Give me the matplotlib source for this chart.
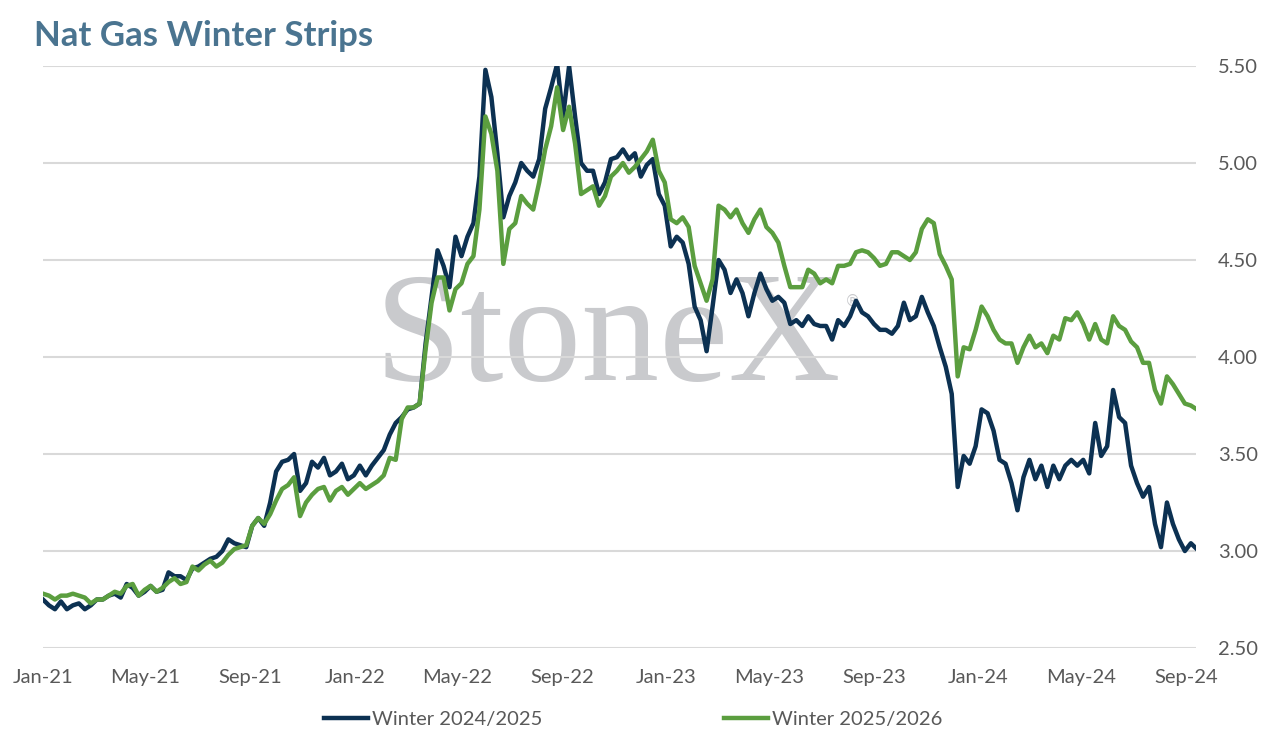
import pandas as pd
import matplotlib
matplotlib.use("Agg")
import matplotlib.pyplot as plt
import matplotlib.dates as mdates

# Weekly readings of the two winter strips ($/MMBtu), starting Jan 1 2021
winter_2425 = [
    2.75, 2.72, 2.70, 2.74, 2.70, 2.72, 2.73, 2.70, 2.72, 2.75,
    2.75, 2.77, 2.78, 2.76, 2.83, 2.81, 2.77, 2.79, 2.82, 2.79,
    2.80, 2.89, 2.87, 2.87, 2.85, 2.91, 2.92, 2.94, 2.96, 2.97,
    3.00, 3.06, 3.04, 3.03, 3.02, 3.13, 3.17, 3.13, 3.25, 3.41,
    3.46, 3.47, 3.50, 3.31, 3.35, 3.46, 3.43, 3.48, 3.39, 3.41,
    3.45, 3.37, 3.39, 3.44, 3.39, 3.44, 3.48, 3.52, 3.60, 3.66,
    3.69, 3.73, 3.74, 3.76, 4.07, 4.31, 4.55, 4.47, 4.36, 4.62,
    4.52, 4.62, 4.69, 4.93, 5.48, 5.34, 5.05, 4.72, 4.83, 4.90,
    5.00, 4.96, 4.93, 5.02, 5.28, 5.39, 5.51, 5.24, 5.50, 5.24,
    5.00, 4.96, 4.96, 4.84, 4.90, 5.02, 5.03, 5.07, 5.02, 5.05,
    4.93, 4.99, 5.02, 4.84, 4.78, 4.57, 4.62, 4.59, 4.48, 4.26,
    4.19, 4.03, 4.26, 4.50, 4.45, 4.33, 4.40, 4.33, 4.21, 4.33,
    4.43, 4.35, 4.29, 4.31, 4.28, 4.17, 4.19, 4.16, 4.21, 4.17,
    4.16, 4.16, 4.09, 4.19, 4.16, 4.21, 4.29, 4.23, 4.21, 4.17,
    4.14, 4.14, 4.12, 4.16, 4.28, 4.19, 4.21, 4.31, 4.23, 4.16,
    4.05, 3.95, 3.81, 3.33, 3.49, 3.45, 3.54, 3.73, 3.71, 3.62,
    3.47, 3.45, 3.35, 3.21, 3.38, 3.47, 3.37, 3.44, 3.33, 3.44,
    3.37, 3.44, 3.47, 3.44, 3.47, 3.40, 3.66, 3.49, 3.54, 3.83,
    3.69, 3.66, 3.44, 3.35, 3.28, 3.33, 3.14, 3.02, 3.25, 3.14,
    3.06, 3.00, 3.04, 3.01,
]

winter_2526 = [
    2.78, 2.77, 2.75, 2.77, 2.77, 2.78, 2.77, 2.76, 2.73, 2.75,
    2.75, 2.77, 2.79, 2.78, 2.82, 2.83, 2.77, 2.80, 2.82, 2.79,
    2.81, 2.84, 2.86, 2.83, 2.84, 2.92, 2.90, 2.93, 2.95, 2.92,
    2.94, 2.98, 3.01, 3.02, 3.03, 3.13, 3.17, 3.14, 3.19, 3.26,
    3.32, 3.34, 3.38, 3.18, 3.25, 3.29, 3.32, 3.33, 3.26, 3.31,
    3.33, 3.29, 3.32, 3.35, 3.32, 3.34, 3.36, 3.39, 3.48, 3.47,
    3.68, 3.74, 3.74, 3.76, 4.04, 4.28, 4.41, 4.41, 4.24, 4.35,
    4.38, 4.48, 4.52, 4.76, 5.24, 5.15, 4.96, 4.48, 4.66, 4.69,
    4.83, 4.79, 4.76, 4.90, 5.07, 5.19, 5.39, 5.17, 5.29, 5.10,
    4.84, 4.86, 4.88, 4.78, 4.83, 4.93, 4.96, 5.00, 4.95, 4.98,
    5.02, 5.06, 5.12, 4.96, 4.90, 4.71, 4.69, 4.72, 4.67, 4.47,
    4.38, 4.29, 4.40, 4.78, 4.76, 4.72, 4.76, 4.69, 4.64, 4.71,
    4.76, 4.67, 4.64, 4.59, 4.47, 4.36, 4.36, 4.36, 4.45, 4.43,
    4.38, 4.40, 4.38, 4.47, 4.47, 4.48, 4.54, 4.55, 4.54, 4.51,
    4.47, 4.48, 4.54, 4.54, 4.52, 4.50, 4.54, 4.66, 4.71, 4.69,
    4.53, 4.47, 4.40, 3.90, 4.05, 4.04, 4.14, 4.26, 4.21, 4.14,
    4.09, 4.07, 4.07, 3.97, 4.05, 4.11, 4.05, 4.07, 4.02, 4.11,
    4.09, 4.20, 4.19, 4.23, 4.17, 4.09, 4.17, 4.09, 4.07, 4.21,
    4.16, 4.14, 4.08, 4.05, 3.97, 3.97, 3.83, 3.76, 3.90, 3.86,
    3.81, 3.76, 3.75, 3.73,
]

dates = pd.date_range("2021-01-01", periods=len(winter_2425), freq="7D")
y_ticks = [2.5, 3.0, 3.5, 4.0, 4.5, 5.0, 5.5]

navy = "#0c3152"
green = "#5b9e3f"
grey_txt = "#595959"

plt.rcParams["font.family"] = ["Lato", "DejaVu Sans"]

fig = plt.figure(figsize=(12.68, 7.40), dpi=100)
ax = fig.add_axes([0.0339, 0.1243, 0.9093, 0.7865])

# watermark
ax.text(0.49, 0.525, "StoneX", transform=ax.transAxes, ha="center", va="center",
        fontsize=112, color="#c9cacd", family="Liberation Serif", zorder=0)
ax.text(0.702, 0.595, "\u00ae", transform=ax.transAxes, ha="center", va="center",
        fontsize=11, color="#c9cacd", family="DejaVu Sans", zorder=0)

ax.plot(dates, winter_2425, color=navy, lw=3.2, label="Winter 2024/2025", zorder=3)
ax.plot(dates, winter_2526, color=green, lw=3.2, label="Winter 2025/2026", zorder=4)

ax.set_ylim(2.5, 5.5)
ax.set_yticks(y_ticks)
ax.yaxis.set_major_formatter(plt.FuncFormatter(lambda v, p: f"{v:.2f}"))
ax.yaxis.tick_right()
ax.set_xlim(pd.Timestamp("2021-01-01"), pd.Timestamp("2024-09-12"))
ax.xaxis.set_major_locator(mdates.MonthLocator(bymonth=[1, 5, 9]))
ax.xaxis.set_major_formatter(mdates.DateFormatter("%b-%y"))

ax.grid(axis="y", color="#d9d9d9", lw=1.5, zorder=1)
ax.set_axisbelow(True)
for s in ax.spines.values():
    s.set_visible(False)
ax.tick_params(axis="both", length=0, labelsize=14.5, labelcolor=grey_txt)
ax.tick_params(axis="x", pad=15)
ax.tick_params(axis="y", pad=16)

fig.text(0.027, 0.952, "Nat Gas Winter Strips", fontsize=25, fontweight="bold",
         color="#4a7490", ha="left", va="center")

fig.legend(loc="center", bbox_to_anchor=(0.4996, 0.028), ncol=2, frameon=False,
           fontsize=14.5, handlelength=2.2, handletextpad=0.2, columnspacing=9.0,
           labelcolor=grey_txt)

fig.savefig("out.png", dpi=100)
